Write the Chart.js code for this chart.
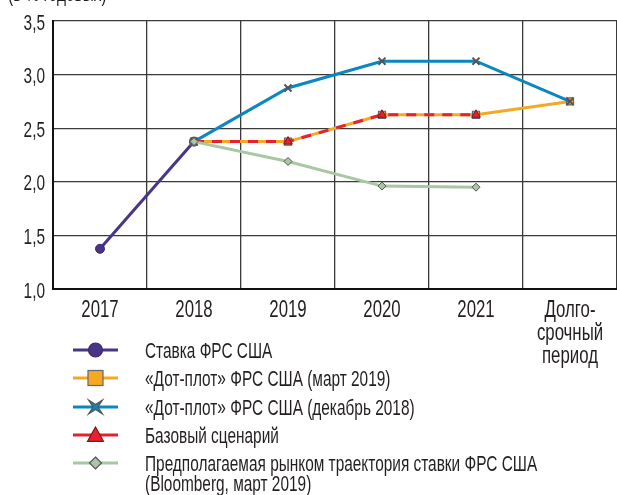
<!DOCTYPE html>
<html><head><meta charset="utf-8">
<script src="https://cdn.jsdelivr.net/npm/chart.js@4"></script>
<style>html,body{margin:0;padding:0;background:#fff}#wrap{width:617px;height:495px;position:relative}</style>
</head><body><div id="wrap"><canvas id="c" width="617" height="495"></canvas></div>
<script>
const FONT = "'Liberation Sans',Arial,sans-serif";
const SX = 0.7;
const categories = ['2017','2018','2019','2020','2021',['Долго-','срочный','период']];
const fedRate      = [1.375, 2.375, null, null, null, null];
const dotMar2019   = [null, 2.375, 2.375, 2.625, 2.625, 2.75];
const dotDec2018   = [null, 2.375, 2.875, 3.125, 3.125, 2.75];
const baseScenario = [null, 2.375, 2.375, 2.625, 2.625, null];
const bloomberg    = [null, 2.375, 2.19, 1.96, 1.95, null];
const yTicks = [1.0, 1.5, 2.0, 2.5, 3.0, 3.5];
const unitTitle = '(в % годовых)';
const legendLabels = ['Ставка ФРС США','«Дот-плот» ФРС США (март 2019)','«Дот-плот» ФРС США (декабрь 2018)','Базовый сценарий',['Предполагаемая рынком траектория ставки ФРС США','(Bloomberg, март 2019)']];

const C = {purple:'#4a3486', orange:'#f7a823', blue:'#0a86c0', red:'#e8212e', green:'#a9c7a3'};

function txt(ctx, s, x, y, size, align){
  ctx.save();
  ctx.font = size+'px '+FONT;
  ctx.fillStyle = '#231f20';
  ctx.textBaseline = 'alphabetic';
  ctx.textAlign = align || 'left';
  ctx.translate(x, y);
  ctx.scale(SX, 1);
  ctx.fillText(s, 0, 0);
  ctx.restore();
}

function drawMarker(ctx, type, x, y, s){
  ctx.save();
  ctx.lineWidth = 1.2;
  if(type==='circle'){ctx.fillStyle=C.purple;ctx.strokeStyle='#3a2a70';ctx.beginPath();ctx.arc(x,y,s,0,Math.PI*2);ctx.fill();ctx.stroke();}
  if(type==='rect'){ctx.fillStyle=C.orange;ctx.strokeStyle='#666';ctx.fillRect(x-s,y-s,2*s,2*s);ctx.strokeRect(x-s,y-s,2*s,2*s);}
  if(type==='star'){ctx.fillStyle=C.blue;ctx.strokeStyle='#555';ctx.beginPath();
    const a=s, b=s*0.35;
    ctx.moveTo(x-a,y-a);ctx.lineTo(x,y-b);ctx.lineTo(x+a,y-a);ctx.lineTo(x+b,y);ctx.lineTo(x+a,y+a);ctx.lineTo(x,y+b);ctx.lineTo(x-a,y+a);ctx.lineTo(x-b,y);ctx.closePath();ctx.fill();ctx.stroke();}
  if(type==='tri'){ctx.fillStyle=C.red;ctx.strokeStyle='#7a1a1a';ctx.beginPath();ctx.moveTo(x,y-s);ctx.lineTo(x+s,y+s*0.8);ctx.lineTo(x-s,y+s*0.8);ctx.closePath();ctx.fill();ctx.stroke();}
  if(type==='diamond'){ctx.fillStyle=C.green;ctx.strokeStyle='#555';ctx.beginPath();ctx.moveTo(x,y-s);ctx.lineTo(x+s,y);ctx.lineTo(x,y+s);ctx.lineTo(x-s,y);ctx.closePath();ctx.fill();ctx.stroke();}
  ctx.restore();
}

const extras = {
  id:'extras',
  afterDraw(chart){
    const ctx = chart.ctx;
    const xs = chart.scales.x, ys = chart.scales.y;
    txt(ctx, unitTitle, 8, 0.5, 22, 'left');
    yTicks.forEach(v=>{
      txt(ctx, v.toFixed(1).replace('.',','), 45, ys.getPixelForValue(v)+8.5, 22, 'right');
    });
    categories.forEach((lab,i)=>{
      const x = xs.getPixelForValue(i);
      const lines = Array.isArray(lab) ? lab : [lab];
      lines.forEach((l,j)=> txt(ctx, l, x, 316.5 + j*23, 24, 'center'));
    });
    const rows = [350, 378, 407, 435, 463];
    const cols = [C.purple, C.orange, C.blue, C.red, C.green];
    const mk = [['circle',7],['rect',7.5],['star',7],['tri',8],['diamond',6]];
    rows.forEach((y,i)=>{
      ctx.save();
      ctx.strokeStyle = cols[i]; ctx.lineWidth = 3;
      ctx.beginPath(); ctx.moveTo(73,y); ctx.lineTo(118,y); ctx.stroke();
      ctx.restore();
      drawMarker(ctx, mk[i][0], 95.5, y, mk[i][1]);
      const lab = legendLabels[i];
      if(Array.isArray(lab)){ txt(ctx, lab[0],145,y+8,22); txt(ctx, lab[1],145,y+28,22);} else txt(ctx, lab,145,y+8,22);
    });
  }
};

new Chart(document.getElementById('c'), {
  type:'line',
  data:{ labels: categories, datasets:[
    {label:'bloomberg', data:bloomberg, borderColor:C.green, backgroundColor:C.green, borderWidth:3, pointStyle:'rectRot', pointRadius:4, pointBorderColor:'#555', pointBorderWidth:1, order:0},
    {label:'base', data:baseScenario, borderColor:C.red, backgroundColor:C.red, borderWidth:3, borderDash:[10,8], pointStyle:'triangle', pointRadius:[0,0,5,5,5,0], pointBorderColor:'#7a1a1a', pointBorderWidth:1, order:1},
    {label:'dec', data:dotDec2018, borderColor:C.blue, backgroundColor:C.blue, borderWidth:3, pointStyle:'crossRot', pointRadius:5, pointBorderColor:'#555', pointBorderWidth:2, order:2},
    {label:'mar', data:dotMar2019, borderColor:C.orange, backgroundColor:C.orange, borderWidth:3, pointStyle:'rect', pointRadius:5, pointBorderColor:'#666', pointBorderWidth:1.2, order:3},
    {label:'fed', data:fedRate, borderColor:C.purple, backgroundColor:C.purple, borderWidth:3, pointStyle:'circle', pointRadius:4.5, pointBorderColor:'#3a2a70', pointBorderWidth:1, order:4}
  ]},
  options:{
    responsive:false, animation:false, spanGaps:false,
    layout:{autoPadding:false, padding:{top:21,right:0,left:0,bottom:0}},
    plugins:{legend:{display:false}, tooltip:{enabled:false}},
    scales:{
      x:{ offset:true,
        grid:{offset:true, color:'#3a3a3a', lineWidth:1.3, drawTicks:false},
        border:{color:'#111', width:2},
        ticks:{display:false},
        afterFit(s){ s.height = 206; }
      },
      y:{ min:1, max:3.5,
        grid:{color:'#3a3a3a', lineWidth:1.3, drawTicks:false},
        border:{color:'#111', width:2},
        afterBuildTicks(s){ s.ticks = yTicks.map(v=>({value:v})); },
        ticks:{display:false},
        afterFit(s){ s.width = 53; }
      }
    }
  },
  plugins:[extras]
});
</script></body></html>
